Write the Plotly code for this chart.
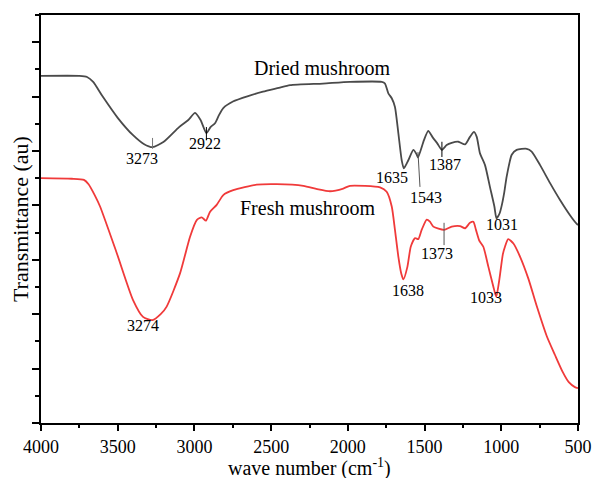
import plotly.graph_objects as go

# FTIR spectra of dried and fresh mushroom (transmittance, arbitrary units)
dried_wn = [4000, 3750, 3700, 3660, 3600, 3500, 3400, 3330, 3273, 3200, 3100, 3040,
            2996, 2960, 2922, 2895, 2866, 2840, 2812, 2749, 2650, 2553, 2450, 2377,
            2162, 1986, 1779, 1758, 1736, 1714, 1693, 1671, 1649, 1635, 1606, 1573,
            1552, 1543, 1504, 1476, 1447, 1417, 1387, 1356, 1323, 1280, 1236, 1204,
            1178, 1160, 1139, 1106, 1074, 1045, 1031, 1010, 997, 980, 965, 932, 900,
            834, 802, 747, 682, 617, 552, 508, 500]
dried_t = [63.8, 63.8, 63.6, 62.7, 60.1, 56.1, 52.9, 51.3, 50.7, 51.7, 54.4, 55.7,
           57.0, 55.7, 53.3, 54.4, 55.1, 56.6, 57.9, 59.1, 60.1, 60.9, 61.6, 62.1,
           62.4, 62.7, 62.7, 62.4, 60.6, 59.7, 58.1, 53.3, 48.3, 46.8, 48.3, 50.2,
           49.4, 48.8, 52.0, 53.7, 52.5, 51.4, 50.2, 51.1, 51.5, 51.7, 51.2, 52.6,
           53.5, 52.6, 49.6, 47.4, 43.4, 39.8, 37.6, 38.6, 40.0, 42.5, 45.3, 49.3, 50.2,
           50.4, 49.9, 47.4, 44.1, 41.0, 38.2, 36.6, 36.4]

fresh_wn = [4000, 3800, 3720, 3690, 3650, 3615, 3507, 3400, 3335, 3274, 3220, 3181,
            3094, 3029, 2985, 2953, 2925, 2899, 2855, 2812, 2747, 2594, 2464, 2290,
            2200, 2116, 2030, 1986, 1790, 1747, 1714, 1693, 1671, 1652, 1638, 1612,
            1590, 1562, 1541, 1519, 1486, 1465, 1443, 1373, 1323, 1269, 1236, 1204,
            1182, 1165, 1143, 1117, 1084, 1052, 1033, 1012, 990, 975, 955, 921, 878,
            823, 769, 704, 650, 600, 560, 520, 500]
fresh_t = [45.0, 44.9, 44.7, 43.9, 41.9, 39.8, 31.3, 22.6, 19.5, 18.9, 20.0, 21.4,
           27.5, 34.2, 37.3, 37.8, 37.2, 38.8, 40.1, 41.9, 42.8, 43.8, 43.9, 43.6,
           43.0, 42.6, 43.1, 43.6, 43.3, 42.5, 39.8, 35.5, 30.6, 27.5, 26.4, 28.7,
           32.4, 34.0, 33.8, 35.5, 37.4, 37.0, 36.1, 35.5, 36.1, 36.2, 35.8, 36.8,
           37.0, 35.5, 33.5, 32.4, 28.7, 25.1, 23.2, 26.5, 31.0, 32.5, 33.8, 33.0, 30.6,
           26.5, 21.5, 16.0, 12.5, 9.4, 7.5, 6.6, 6.4]

x_ticks = [4000, 3500, 3000, 2500, 2000, 1500, 1000, 500]

# Peak labels: (wavenumber, label shift x, label shift y)
dried_peaks = [(3273, -11, -11), (2922, -1, -10), (1635, -12, -9),
               (1543, 8, -40), (1387, 3, -15), (1031, 5, -6)]
fresh_peaks = [(3274, -9, -5), (1638, 5, -11), (1373, -7, -24), (1033, -10, -1)]

SERIF = "Liberation Serif, Times New Roman, serif"

fig = go.Figure()
fig.add_trace(go.Scatter(x=dried_wn, y=dried_t, mode="lines",
                         line=dict(color="#4a4a4a", width=1.8, shape="spline", smoothing=0.6),
                         name="Dried mushroom", showlegend=False))
fig.add_trace(go.Scatter(x=fresh_wn, y=fresh_t, mode="lines",
                         line=dict(color="#f03a3a", width=1.8, shape="spline", smoothing=0.6),
                         name="Fresh mushroom", showlegend=False))


def value_at(wns, ts, w):
    return ts[wns.index(w)]


for w, dx, dy in dried_peaks:
    fig.add_annotation(x=w, y=value_at(dried_wn, dried_t, w), text=str(w), showarrow=False,
                       xshift=dx, yshift=dy, font=dict(family=SERIF, size=16, color="black"))
for w, dx, dy in fresh_peaks:
    fig.add_annotation(x=w, y=value_at(fresh_wn, fresh_t, w), text=str(w), showarrow=False,
                       xshift=dx, yshift=dy, font=dict(family=SERIF, size=16, color="black"))

# small marker lines pointing at peaks
markers = [
    (3273, 3273, 52.4, 50.4, "#777777", 1),
    (2922, 2922, 54.4, 52.0, "black", 1),
    (1543, 1530, 49.8, 43.4, "#555555", 1),
    (1387, 1387, 51.7, 48.9, "black", 1),
    (1373, 1373, 36.8, 32.7, "#555555", 1),
]
for x0, x1, y0, y1, c, wd in markers:
    fig.add_shape(type="line", x0=x0, x1=x1, y0=y0, y1=y1, xref="x", yref="y",
                  line=dict(color=c, width=wd))

fig.add_annotation(x=2168, y=65.3, text="Dried mushroom", showarrow=False,
                   font=dict(family=SERIF, size=20, color="black"))
fig.add_annotation(x=2266, y=39.5, text="Fresh mushroom", showarrow=False,
                   font=dict(family=SERIF, size=20, color="black"))

# axis titles
fig.add_annotation(x=0.5, y=-0.108, xref="paper", yref="paper", showarrow=False,
                   text="wave number (cm<sup>-1</sup>)", xanchor="center", yanchor="middle",
                   font=dict(family=SERIF, size=20, color="black"))
fig.add_annotation(x=-0.039, y=0.5, xref="paper", yref="paper", showarrow=False,
                   text="Transmittance (au)", textangle=-90, xanchor="center", yanchor="middle",
                   font=dict(family=SERIF, size=22, color="black"))

fig.update_layout(
    width=593, height=478,
    margin=dict(l=41, r=15, t=15, b=55, autoexpand=False),
    paper_bgcolor="white", plot_bgcolor="white",
    font=dict(family=SERIF, color="black"),
    xaxis=dict(
        range=[4000, 500], tickvals=x_ticks, ticktext=[str(v) for v in x_ticks],
        ticks="outside", ticklen=6, tickwidth=1.5, tickcolor="black",
        minor=dict(dtick=250, ticks="outside", ticklen=3, tickwidth=1.5, tickcolor="black"),
        showline=True, linecolor="black", linewidth=2, mirror=True,
        showgrid=False, zeroline=False, automargin=False,
        tickfont=dict(family=SERIF, size=18, color="black"),
    ),
    yaxis=dict(
        range=[0, 75], tick0=0, dtick=10,
        ticks="outside", ticklen=7, tickwidth=1.5, tickcolor="black",
        minor=dict(dtick=5, ticks="outside", ticklen=4, tickwidth=1.5, tickcolor="black"),
        showticklabels=False,
        showline=True, linecolor="black", linewidth=2, mirror=True,
        showgrid=False, zeroline=False, automargin=False,
    ),
)

fig.write_html("out.html")
